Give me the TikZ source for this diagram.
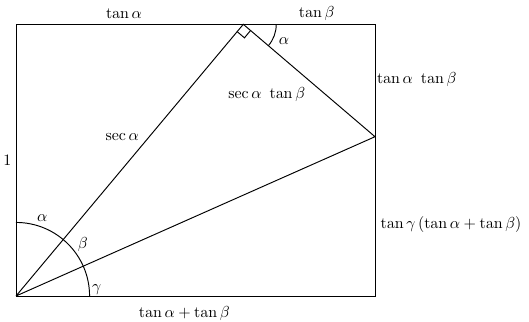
\documentclass[tikz,border=0pt]{standalone}
\usetikzlibrary{calc}
\begin{document}
\begin{tikzpicture}[x=0.628pt,y=0.628pt,line width=0.6pt,
  lbl/.style={inner sep=0pt,anchor=center}]
\useasboundingbox (0,0) rectangle (529,321);
\coordinate (O) at (16,25);
\coordinate (TL) at (16,296.7);
\coordinate (T) at (243.3,296.7);
\coordinate (TR) at (375,296.7);
\coordinate (R) at (375,184.3);
\coordinate (BR) at (375,25);
\draw (O) -- (TL) -- (TR) -- (BR) -- cycle;
\draw (O) -- (T) -- (R) -- (O);
% right angle mark
\coordinate (m1) at ($(T)!6pt!(O)$);
\coordinate (m2) at ($(T)!6pt!(R)$);
\draw (m1) -- ($(m1)+(m2)-(T)$) -- (m2);
% angle arcs
\draw ($(T)+(20.7pt,0)$) arc[start angle=0, end angle=-40.5, radius=20.7pt];
\draw ($(O)+(0,46.2pt)$) arc[start angle=90, end angle=0, radius=46.2pt];
% labels
\node[lbl] (ta) at (124,307.7) {$\tan\alpha$};
\node[lbl] (tb) at (316.7,307.7) {$\tan\beta$};
\node[lbl] (a2) at (284,280.3) {$\alpha$};
\node[lbl] (tatb) at (416.7,241) {$\tan\alpha\ \tan\beta$};
\node[lbl] (satb) at (266.7,226.7) {$\sec\alpha\ \tan\beta$};
\node[lbl] (sa) at (122.3,183.7) {$\sec\alpha$};
\node[lbl] (one) at (7.3,160.3) {$1$};
\node[lbl] (a1) at (42.3,102.7) {$\alpha$};
\node[lbl] (b1) at (82.7,76.7) {$\beta$};
\node[lbl] (g1) at (96.7,31.7) {$\gamma$};
\node[lbl] (tg) at (451,96.7) {$\tan\gamma\,(\tan\alpha+\tan\beta)$};
\node[lbl] (sum) at (184.3,7) {$\tan\alpha+\tan\beta$};
\end{tikzpicture}
\end{document}
